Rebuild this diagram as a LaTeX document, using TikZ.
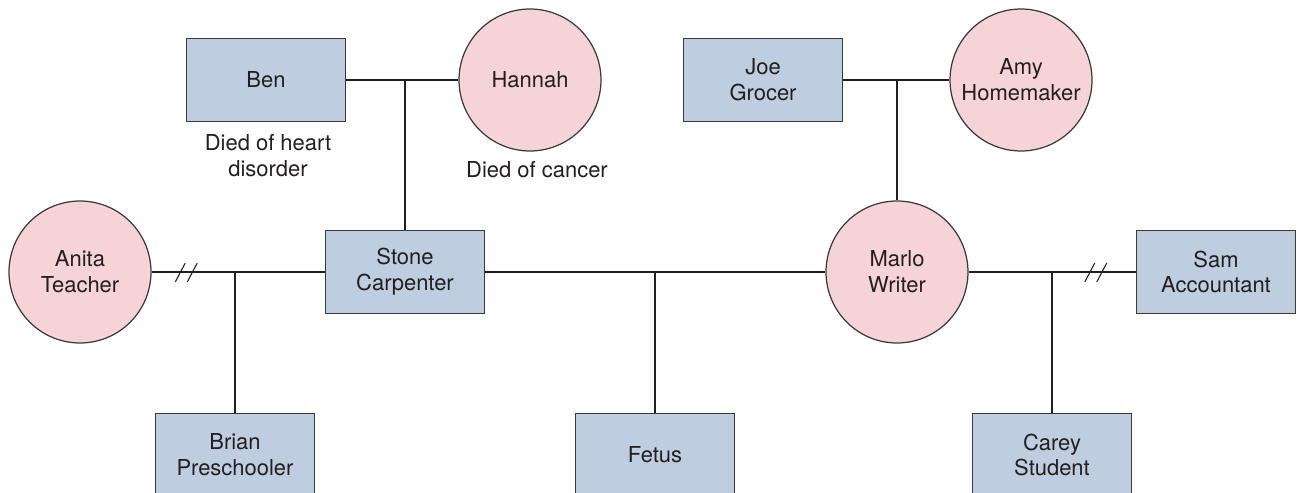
\documentclass[tikz,border=0pt]{standalone}
\usepackage{fontspec}
\setmainfont{TeX Gyre Heros}
\usetikzlibrary{calc}
\definecolor{malefill}{HTML}{BFCDE0}
\definecolor{femalefill}{HTML}{F5D3D7}
\definecolor{edgegray}{HTML}{3A3A3C}
\definecolor{inkgray}{HTML}{231F20}
\newcommand{\namefont}{\fontsize{12.5}{14.7}\selectfont}
\tikzset{
  male/.style={draw=edgegray, line width=0.7pt, fill=malefill, minimum width=3.18cm, minimum height=1.66cm, align=center, text=inkgray, font=\namefont, inner sep=0pt},
  female/.style={circle, draw=edgegray, line width=0.7pt, fill=femalefill, minimum size=2.84cm, align=center, text=inkgray, font=\namefont, inner sep=0pt},
  note/.style={align=center, text=inkgray, font=\namefont},
  tie/.style={line width=1.5pt, draw=inkgray},
  slash/.style={line width=0.6pt, draw=inkgray}
}

\begin{document}
\begin{tikzpicture}[x=0.02cm,y=-0.02cm]
        \useasboundingbox (0,0) rectangle (1301,493);

        % grandparents
        \node[male] (ben) at (266,80) {Ben};
        \node[female] (hannah) at (530,80) {Hannah};
        \node[male] (joe) at (763,80) {Joe\\Grocer};
        \node[female] (amy) at (1021,80) {Amy\\Homemaker};
        \node[note] (bennote) at (268,156) {Died of heart\\disorder};
        \node[note] (hannahnote) at (537,170) {Died of cancer};

        % parents
        \node[female] (anita) at (80,272) {Anita\\Teacher};
        \node[male] (stone) at (405,272) {Stone\\Carpenter};
        \node[female] (marlo) at (897,272) {Marlo\\Writer};
        \node[male] (sam) at (1216,272) {Sam\\Accountant};

        % children
        \node[male] (brian) at (235,455) {Brian\\Preschooler};
        \node[male] (fetus) at (655,455) {Fetus};
        \node[male] (carey) at (1052,455) {Carey\\Student};

        \draw[tie] (ben) -- (hannah);
        \draw[tie] (stone.north) -- (stone.north |- ben.east);
        \draw[tie] (joe) -- (amy);
        \draw[tie] (marlo.north) -- (marlo.north |- joe.east);

        \draw[tie] (anita) -- (stone);
        \draw[tie] (brian.north) -- (brian.north |- anita.east);
        \draw[tie] (stone) -- (marlo);
        \draw[tie] (fetus.north) -- (fetus.north |- stone.east);
        \draw[tie] (marlo) -- (sam);
        \draw[tie] (carey.north) -- (carey.north |- sam.west);

        % divorce marks
        \coordinate (brkL) at ($(anita.east)!0.2!(stone.west)$);
        \coordinate (brkR) at ($(marlo.east)!0.76!(sam.west)$);
        \foreach \b in {brkL,brkR}{
            \draw[slash] ([shift={(-11,10)}]\b) -- ++(10,-19);
            \draw[slash] ([shift={(1,10)}]\b) -- ++(10,-19);
        }
\end{tikzpicture}
\end{document}
